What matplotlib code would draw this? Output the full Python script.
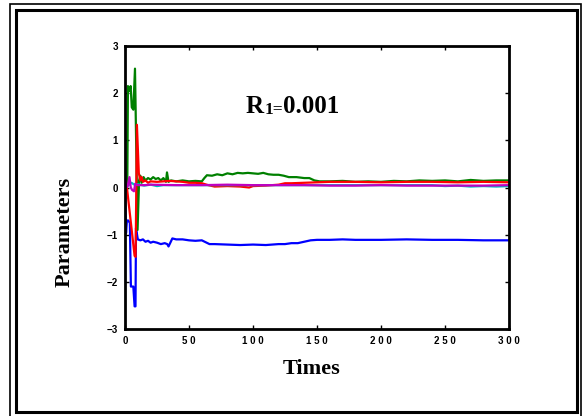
import matplotlib
matplotlib.use('Agg')
from matplotlib import pyplot as plt
from matplotlib.patches import Rectangle

# data
t_green = [0, 1.8, 2.3, 3.4, 4.4, 5.3, 6.5, 7.8, 9.8, 11, 12, 13, 14.5, 16, 18, 20, 22, 24, 26, 28,
           30, 32, 32.8, 34, 36, 40, 45, 50, 55, 60, 62, 64, 68, 72, 76, 80, 84, 88, 92, 96,
           100, 104, 108, 112, 116, 120, 124, 128, 134, 140, 144, 148, 152, 160, 170, 180, 190, 200, 210, 220,
           230, 240, 250, 260, 270, 280, 290, 300]
v_green = [0, 0.05, 2.15, 2.05, 2.15, 1.7, 1.65, 2.52, -0.9, 0.15, 0.25, 0.1, 0.22, 0.15, 0.2, 0.17, 0.22, 0.18, 0.2, 0.15,
           0.2, 0.12, 0.32, 0.12, 0.15, 0.13, 0.15, 0.13, 0.14, 0.13, 0.2, 0.26, 0.25, 0.28, 0.26, 0.3, 0.28, 0.31, 0.3, 0.31,
           0.3, 0.29, 0.31, 0.28, 0.27, 0.27, 0.25, 0.22, 0.22, 0.2, 0.2, 0.15, 0.13, 0.13, 0.14, 0.12, 0.13, 0.12, 0.14, 0.13,
           0.15, 0.14, 0.15, 0.13, 0.16, 0.14, 0.15, 0.15]

t_red = [0, 1.5, 7.5, 8.3, 9.3, 10.8, 12, 13, 14, 16, 18, 20, 25, 30, 35, 40, 45, 50, 55, 60,
         65, 70, 80, 90, 97, 100, 110, 120, 125, 130, 140, 150, 160, 180, 200, 220, 240, 260, 280, 300]
v_red = [0, 0.0, -1.45, -1.47, 1.33, 0.3, 0.15, 0.22, 0.12, 0.15, 0.1, 0.13, 0.12, 0.13, 0.14, 0.13, 0.12, 0.1, 0.1, 0.09,
         0.05, 0.02, 0.03, 0.02, 0.0, 0.03, 0.04, 0.06, 0.09, 0.09, 0.1, 0.11, 0.12, 0.12, 0.11, 0.12, 0.12, 0.11, 0.12, 0.11]

t_blue = [0, 0.8, 1.5, 2.5, 3.8, 4.6, 6.5, 7.5, 8.2, 8.6, 10, 12, 14, 16, 18, 20, 22, 25, 28, 31,
          33, 34, 37, 40, 45, 50, 55, 60, 66, 70, 80, 90, 100, 110, 120, 125, 130, 135, 140, 145,
          150, 160, 170, 180, 200, 220, 240, 260, 280, 300]
v_blue = [0, -0.97, -0.7, -0.7, -0.75, -2.1, -2.1, -2.52, -2.52, -0.86, -1.1, -1.12, -1.1, -1.15, -1.13, -1.17, -1.15, -1.17, -1.2, -1.18,
          -1.2, -1.25, -1.08, -1.1, -1.1, -1.12, -1.13, -1.12, -1.2, -1.2, -1.21, -1.22, -1.21, -1.22, -1.2, -1.2, -1.18, -1.18, -1.15, -1.12,
          -1.11, -1.11, -1.1, -1.11, -1.11, -1.1, -1.11, -1.11, -1.12, -1.12]

t_magenta = [0, 2, 3.5, 4.5, 5.5, 7, 8, 10, 15, 20, 40, 60, 80, 100, 120, 140, 160, 180, 200, 220, 240, 260, 280, 300]
v_magenta = [0.0, 0.02, 0.22, 0.0, -0.05, -0.08, 0.08, 0.05, 0.05, 0.06, 0.05, 0.05, 0.06, 0.05, 0.05, 0.05, 0.04, 0.04, 0.05, 0.04,
             0.04, 0.04, 0.04, 0.05]

t_cyan = [0, 3, 5, 8, 10, 15, 20, 25, 30, 40, 60, 100, 150, 200, 240, 250, 260, 270, 280, 290, 300]
v_cyan = [0, 0.05, 0.1, 0.05, 0.07, 0.04, 0.06, 0.03, 0.05, 0.05, 0.05, 0.05, 0.05, 0.05, 0.05, 0.03, 0.04, 0.02, 0.03, 0.02, 0.03]

x_ticks = [0, 50, 100, 150, 200, 250, 300]
x_ticklabels = ['0', '5 0', '1 0 0', '1 5 0', '2 0 0', '2 5 0', '3 0 0']
y_ticks = [-3, -2, -1, 0, 1, 2, 3]

fig = plt.figure(figsize=(5.83, 4.16), dpi=100)
W, H = 583.0, 416.0

# double frame round the figure
fig.patches.append(Rectangle((9.5 / W, -0.01), 571.5 / W, 1 - 3.5 / H + 0.01, transform=fig.transFigure,
                             fill=False, lw=1.2, ec='black'))
fig.patches.append(Rectangle((15.5 / W, 4.5 / H), 561.5 / W, (411.5 - 9.5) / H, transform=fig.transFigure,
                             fill=False, lw=2.2, ec='black'))

ax = fig.add_axes([125 / W, 1 - 329 / H, 384 / W, 283 / H])

lw = 1.6
ax.plot(t_blue, v_blue, color='#0000ff', lw=lw)
ax.plot(t_green, v_green, color='#008000', lw=lw)
ax.plot(t_red, v_red, color='#ff0000', lw=lw)
ax.plot(t_cyan, v_cyan, color='#00c0c0', lw=lw)
ax.plot(t_magenta, v_magenta, color='#c000c0', lw=lw)

ax.set_xlim(0, 300)
ax.set_ylim(-3, 3)
ax.set_xticks(x_ticks)
ax.set_xticklabels(x_ticklabels)
ax.set_yticks(y_ticks)
ax.tick_params(direction='in', length=3, width=1, top=True, right=True, pad=5)
for lab in ax.get_xticklabels() + ax.get_yticklabels():
    lab.set_fontfamily('Liberation Sans')
    lab.set_fontweight('bold')
    lab.set_fontsize(7)
for s in ax.spines.values():
    s.set_linewidth(2)

# R1=0.001 label, built from three pieces so the subscript sits tight
tfont = dict(family='Liberation Serif', weight='bold')
t1 = ax.text(0.315, 0.763, 'R', transform=ax.transAxes, fontsize=18, ha='left', va='baseline', **tfont)
t2 = ax.annotate('1=', xy=(1, 0), xycoords=t1, fontsize=12.5, ha='left', va='bottom', **tfont)
t3 = ax.annotate('0.001', xy=(1, 0), xycoords=t2, fontsize=18, ha='left', va='bottom', **tfont)

fig.text(312 / W, 1 - 369 / H, 'Times', fontsize=16, ha='center', va='center', **tfont)
fig.text(65 / W, 1 - 232 / H, 'Parameters', fontsize=16, ha='center', va='center', rotation=90, **tfont)

fig.savefig('out.png', dpi=100)
